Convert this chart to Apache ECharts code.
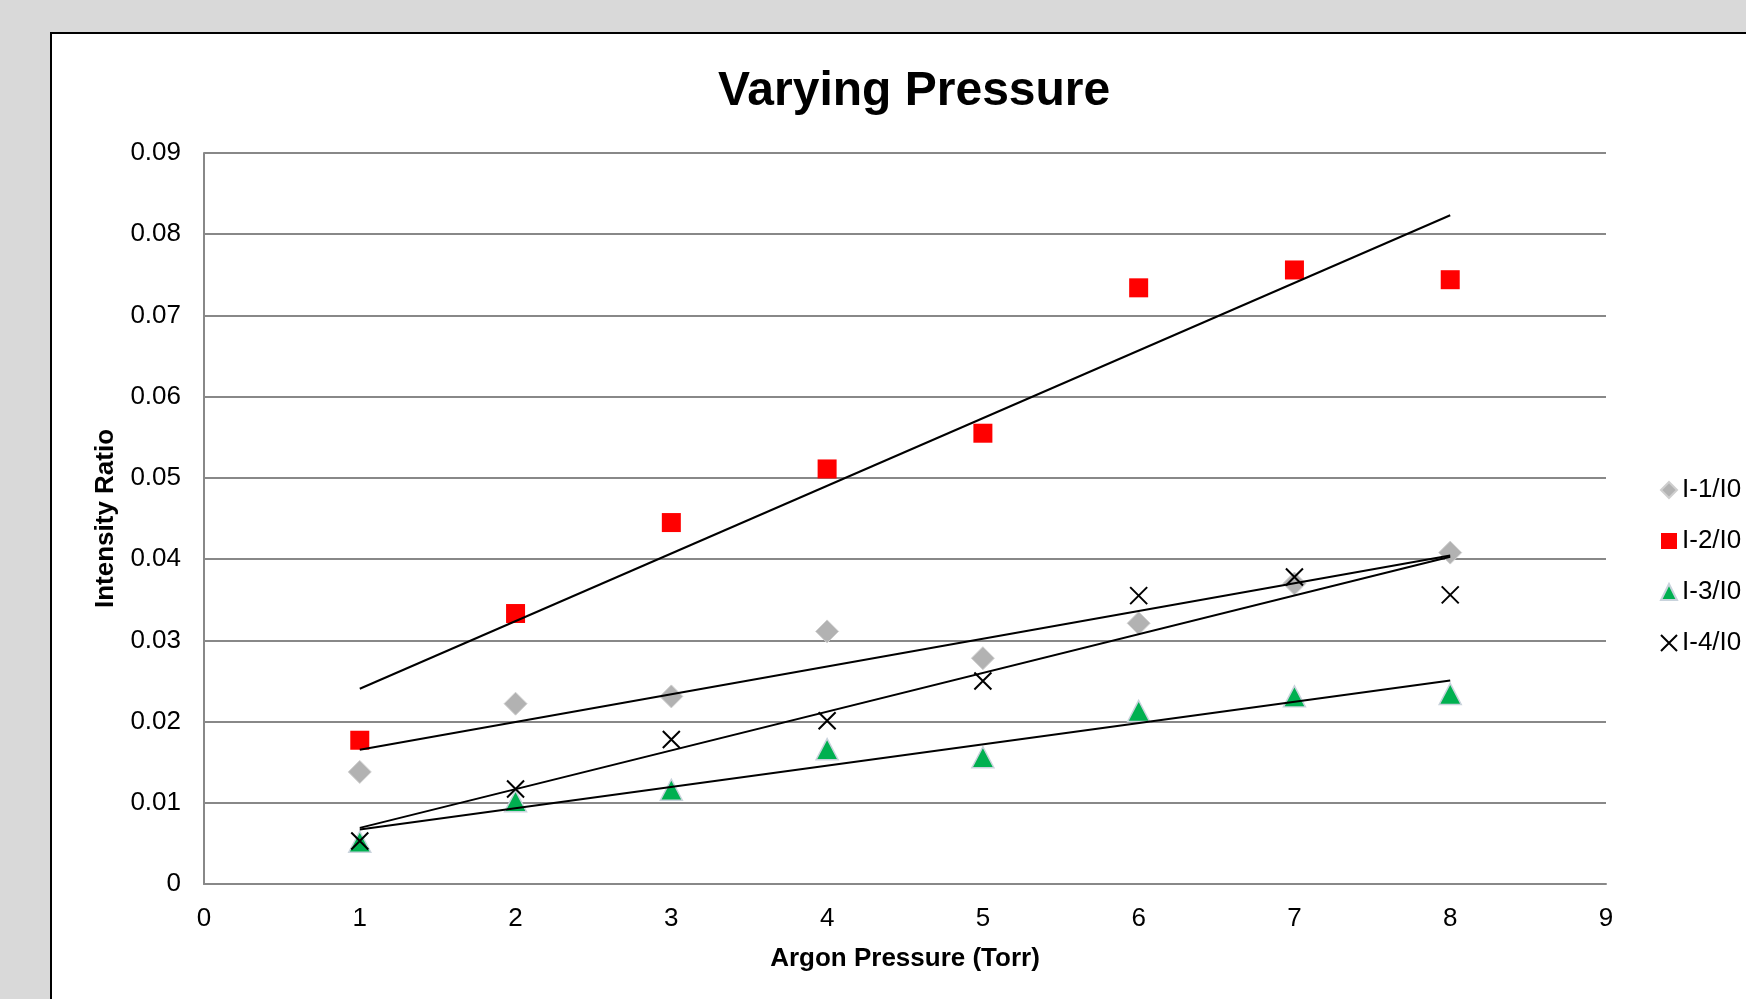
<!DOCTYPE html>
<html>
<head>
<meta charset="utf-8">
<script src="https://cdn.jsdelivr.net/npm/echarts@6/dist/echarts.min.js"></script>
<style>
html,body{margin:0;padding:0;width:1746px;height:999px;overflow:hidden;background:#d9d9d9;}
#panel{position:absolute;left:50px;top:32px;width:2000px;height:2000px;background:#fff;border:2px solid #000;box-sizing:border-box;}
#chart{position:absolute;left:0;top:0;width:1746px;height:999px;}
</style>
</head>
<body>
<div id="panel"></div>
<div id="chart"></div>
<script>
const pressure = [1, 2, 3, 4, 5, 6, 7, 8];
const i1 = [0.0138, 0.0222, 0.0231, 0.0311, 0.0278, 0.0321, 0.0370, 0.0408];
const i2 = [0.0177, 0.0333, 0.0445, 0.0511, 0.0555, 0.0734, 0.0756, 0.0744];
const i3 = [0.0052, 0.0102, 0.0116, 0.0166, 0.0156, 0.0213, 0.0231, 0.0234];
const i4 = [0.0053, 0.0117, 0.0178, 0.0201, 0.0250, 0.0355, 0.0378, 0.0356];
const seriesNames = ['I-1/I0', 'I-2/I0', 'I-3/I0', 'I-4/I0'];
const xTicks = [0, 1, 2, 3, 4, 5, 6, 7, 8, 9];
const yTicks = [0, 0.01, 0.02, 0.03, 0.04, 0.05, 0.06, 0.07, 0.08, 0.09];

const FONT = 'Arial, "Liberation Sans", sans-serif';

function pairs(ys) { return pressure.map((x, k) => [x, ys[k]]); }
// least-squares linear trendline (as in the spreadsheet chart), drawn between first and last x
function trend(ys) {
  const n = pressure.length;
  const mx = pressure.reduce((a, b) => a + b, 0) / n;
  const my = ys.reduce((a, b) => a + b, 0) / n;
  let sxy = 0, sxx = 0;
  for (let k = 0; k < n; k++) { sxy += (pressure[k] - mx) * (ys[k] - my); sxx += (pressure[k] - mx) ** 2; }
  const b = sxy / sxx, a = my - b * mx;
  const x0 = pressure[0], x1 = pressure[n - 1];
  return [[x0, a + b * x0], [x1, a + b * x1]];
}

const crossPath = 'path://M0,0L10,10M10,0L0,10';

const chart = echarts.init(document.getElementById('chart'), null, {renderer: 'canvas'});
const trendStyle = {type: 'line', symbol: 'none', silent: true, z: 5, lineStyle: {color: '#000', width: 2}, emphasis: {disabled: true}};

chart.setOption({
  animation: false,
  backgroundColor: 'transparent',
  textStyle: {fontFamily: FONT},
  title: {
    text: 'Varying Pressure',
    left: 713, top: 63,
    textStyle: {fontFamily: FONT, fontSize: 48, fontWeight: 'bold', color: '#000'}
  },
  legend: {
    orient: 'vertical',
    left: 1655, top: 472,
    data: seriesNames,
    itemWidth: 16, itemHeight: 16,
    itemGap: 25,
    textStyle: {fontFamily: FONT, fontSize: 26, color: '#000', lineHeight: 26, padding: [0, 0, 0, 0]},
    selectedMode: false
  },
  grid: {left: 204, top: 153, right: 140, bottom: 115, containLabel: false},
  xAxis: {
    type: 'value', min: xTicks[0], max: xTicks[xTicks.length - 1], interval: 1,
    name: 'Argon Pressure (Torr)', nameLocation: 'middle', nameGap: 62,
    nameTextStyle: {fontFamily: FONT, fontSize: 26, fontWeight: 'bold', color: '#000'},
    axisLine: {show: true, lineStyle: {color: '#888', width: 2}},
    axisTick: {show: false},
    splitLine: {show: false},
    axisLabel: {fontFamily: FONT, fontSize: 26, color: '#000', margin: 22}
  },
  yAxis: {
    type: 'value', min: yTicks[0], max: yTicks[yTicks.length - 1], interval: 0.01,
    name: 'Intensity Ratio', nameLocation: 'middle', nameGap: 85,
    nameTextStyle: {fontFamily: FONT, fontSize: 26, fontWeight: 'bold', color: '#000'},
    axisLine: {show: true, lineStyle: {color: '#888', width: 2}},
    axisTick: {show: false},
    splitLine: {show: true, lineStyle: {color: '#888', width: 2}},
    axisLabel: {fontFamily: FONT, fontSize: 26, color: '#000', margin: 23, padding: [6, 0, 0, 0],
      formatter: v => v === 0 ? '0' : String(+v.toFixed(2))}
  },
  series: [
    {name: seriesNames[0], type: 'scatter', data: pairs(i1), symbol: 'diamond', symbolSize: 23, z: 2,
      itemStyle: {color: '#b2b2b2', borderColor: '#cfcfcf', borderWidth: 1, opacity: 1}},
    {name: seriesNames[1], type: 'scatter', data: pairs(i2), symbol: 'rect', symbolSize: 19, z: 2,
      itemStyle: {color: '#ff0000', opacity: 1}},
    {name: seriesNames[2], type: 'scatter', data: pairs(i3), symbol: 'triangle', symbolSize: [22, 21], z: 2,
      itemStyle: {color: '#00b050', borderColor: '#c9d3dc', borderWidth: 1.5, opacity: 1}},
    {name: seriesNames[3], type: 'scatter', data: pairs(i4), symbol: crossPath, symbolSize: 17, z: 3,
      itemStyle: {color: 'transparent', borderColor: '#000', borderWidth: 2, opacity: 1}},
    Object.assign({name: 'trend1', data: trend(i1)}, trendStyle),
    Object.assign({name: 'trend2', data: trend(i2)}, trendStyle),
    Object.assign({name: 'trend3', data: trend(i3)}, trendStyle),
    Object.assign({name: 'trend4', data: trend(i4)}, trendStyle)
  ]
});
</script>
</body>
</html>
